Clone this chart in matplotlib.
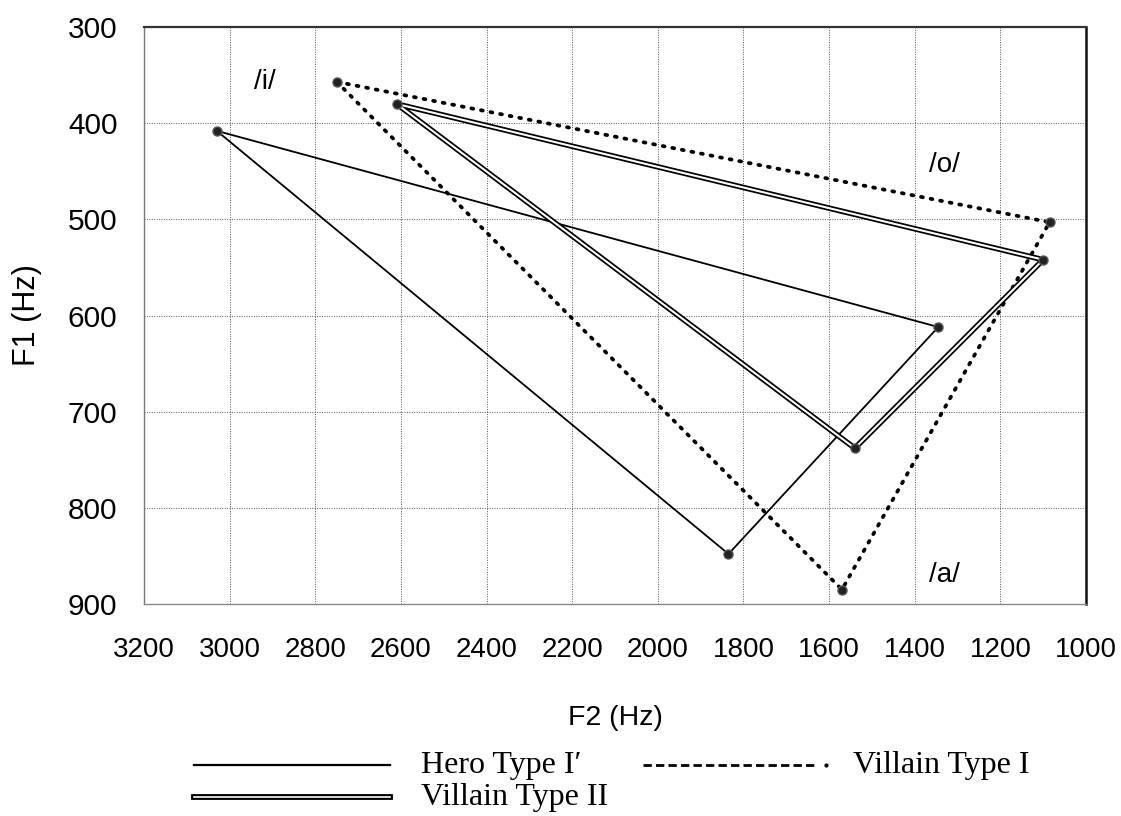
import matplotlib
matplotlib.use("Agg")
import matplotlib.pyplot as plt
import matplotlib.patheffects as pe
from matplotlib.lines import Line2D

# Formant values (Hz) for the vowel triangles, vertices in order /i/, /a/, /o/
hero_f2 = [3030, 1835, 1345]
hero_f1 = [408, 848, 612]
villain1_f2 = [2750, 1570, 1085]
villain1_f1 = [357, 885, 503]
villain2_f2 = [2610, 1540, 1100]
villain2_f1 = [380, 738, 542]

vowel_labels = ["/i/", "/o/", "/a/"]
vowel_f2 = [2917, 1330, 1330]
vowel_f1 = [357, 443, 870]

x_ticks = list(range(3200, 999, -200))
y_ticks = list(range(300, 901, 100))

W, H = 1121, 816
fig = plt.figure(figsize=(W / 100, H / 100), dpi=100)
ax = fig.add_axes([144 / W, 1 - 604 / H, 942 / W, 577 / H])

sans = ["Liberation Sans", "DejaVu Sans"]
serif = ["Liberation Serif", "DejaVu Serif"]


def closed(xs, ys):
    return list(xs) + [xs[0]], list(ys) + [ys[0]]


double_fx = [pe.Stroke(linewidth=4.0, foreground="black"), pe.Normal()]

# Hero Type I' : single solid line
x, y = closed(hero_f2, hero_f1)
ax.plot(x, y, color="black", lw=1.3, solid_joinstyle="round", zorder=3)

# Villain Type I : dotted line
x, y = closed(villain1_f2, villain1_f1)
ax.plot(x, y, color="black", lw=2.7, linestyle=(0, (0.5, 2.1)),
        dash_capstyle="round", zorder=3)

# Villain Type II : double line
x, y = closed(villain2_f2, villain2_f1)
ax.plot(x, y, color="white", lw=1.5, solid_joinstyle="round",
        path_effects=double_fx, zorder=3)

# vertex markers
for fx, fy in [(hero_f2, hero_f1), (villain1_f2, villain1_f1), (villain2_f2, villain2_f1)]:
    ax.plot(fx, fy, linestyle="none", marker="o", ms=6.5, mfc="#222222",
            mec="#555555", mew=1.0, zorder=4)

for lab, fx, fy in zip(vowel_labels, vowel_f2, vowel_f1):
    ax.text(fx, fy, lab, ha="center", va="center", fontsize=20, family=sans)

ax.set_xlim(3200, 1000)
ax.set_ylim(900, 300)
ax.set_xticks(x_ticks)
ax.set_yticks(y_ticks)
ax.tick_params(axis="both", length=0)
ax.tick_params(axis="x", pad=24, labelsize=20)
ax.tick_params(axis="y", pad=19, labelsize=21.5)
for lbl in ax.get_xticklabels() + ax.get_yticklabels():
    lbl.set_family(sans)

ax.grid(True, color="#555555", linestyle=(0, (1, 1.5)), lw=0.7)
ax.set_axisbelow(True)

ax.spines["top"].set_color("#333333")
ax.spines["top"].set_linewidth(1.6)
ax.spines["right"].set_color("#111111")
ax.spines["right"].set_linewidth(1.8)
ax.spines["left"].set_color("#777777")
ax.spines["left"].set_linestyle((0, (1, 1)))
ax.spines["left"].set_linewidth(1.0)
ax.spines["bottom"].set_color("#888888")
ax.spines["bottom"].set_linewidth(1.0)

ax.set_xlabel("F2 (Hz)", fontsize=20.5, family=sans)
ax.set_ylabel("F1 (Hz)", fontsize=22, family=sans)
ax.xaxis.set_label_coords(0.5, -0.175)
ax.yaxis.set_label_coords(-0.108, 0.5)


# legend drawn beneath the axes
def fig_xy(px, py):
    return px / W, 1 - py / H


def legend_line(x0, x1, yy, **kw):
    (a, b), (c, _) = fig_xy(x0, yy), fig_xy(x1, yy)
    fig.add_artist(Line2D([a, c], [b, b], transform=fig.transFigure, **kw))


legend_line(194, 390, 765, color="black", lw=1.6)
fig.text(*fig_xy(421, 765), "Hero Type I\u2032", fontsize=23, family=serif,
         ha="left", va="center")
legend_line(643, 818, 765, color="black", lw=2.0, linestyle=(0, (3.0, 1.5)))
fig.add_artist(Line2D([fig_xy(826, 765)[0]], [fig_xy(826, 765)[1]],
                      transform=fig.transFigure, marker="o", ms=2, color="black"))
fig.text(*fig_xy(853, 765), "Villain Type I", fontsize=23, family=serif,
         ha="left", va="center")
legend_line(194, 390, 797, color="white", lw=1.2,
            path_effects=[pe.Stroke(linewidth=4.2, foreground="black"), pe.Normal()])
fig.text(*fig_xy(421, 797), "Villain Type II", fontsize=23, family=serif,
         ha="left", va="center")

fig.savefig("out.png", dpi=100, facecolor="white")
